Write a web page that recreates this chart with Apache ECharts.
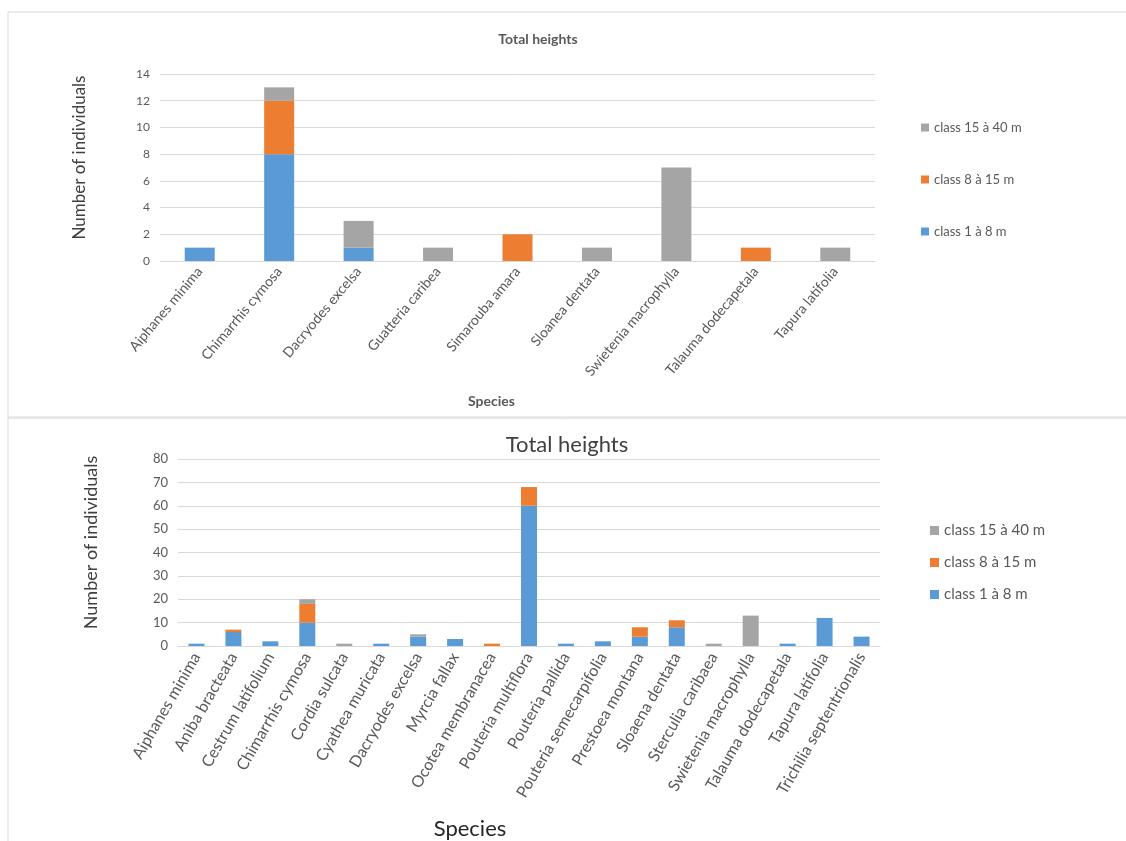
<!DOCTYPE html>
<html>
<head>
<meta charset="utf-8">
<script src="https://cdn.jsdelivr.net/npm/echarts@6/dist/echarts.min.js"></script>
<style>
  html, body { margin: 0; padding: 0; background: #fff; }
  #chart { width: 1126px; height: 841px; }
</style>
</head>
<body>
<div id="chart"></div>
<script>
// Upper panel: species counted in the first plot
const speciesA = ['Aiphanes minima', 'Chimarrhis cymosa', 'Dacryodes excelsa', 'Guatteria caribea',
  'Simarouba amara', 'Sloanea dentata', 'Swietenia macrophylla', 'Talauma dodecapetala', 'Tapura latifolia'];
const smallA  = [1, 8, 1, 0, 0, 0, 0, 0, 0];   // class 1 à 8 m
const middleA = [0, 4, 0, 0, 2, 0, 0, 1, 0];   // class 8 à 15 m
const tallA   = [0, 1, 2, 1, 0, 1, 7, 0, 1];   // class 15 à 40 m
const ticksA = { min: 0, max: 14, interval: 2 };

// Lower panel: all species
const speciesB = ['Aiphanes minima', 'Aniba bracteata', 'Cestrum latifolium', 'Chimarrhis cymosa',
  'Cordia sulcata', 'Cyathea muricata', 'Dacryodes excelsa', 'Myrcia fallax', 'Ocotea membranacea',
  'Pouteria multiflora', 'Pouteria pallida', 'Pouteria semecarpifolia', 'Prestoea montana',
  'Sloaena dentata', 'Sterculia caribaea', 'Swietenia macrophylla', 'Talauma dodecapetala',
  'Tapura latifolia', 'Trichilia septentrionalis'];
const smallB  = [1, 6, 2, 10, 0, 1, 4, 3, 0, 60, 1, 2, 4, 8, 0, 0, 1, 12, 4];
const middleB = [0, 1, 0, 8, 0, 0, 0, 0, 1, 8, 0, 0, 4, 3, 0, 0, 0, 0, 0];
const tallB   = [0, 0, 0, 2, 1, 0, 1, 0, 0, 0, 0, 0, 0, 0, 1, 13, 0, 0, 0];
const ticksB = { min: 0, max: 80, interval: 10 };

const classNames = ['class 1 à 8 m', 'class 8 à 15 m', 'class 15 à 40 m'];
const classColors = ['#5b9bd5', '#ed7d31', '#a5a5a5'];

const FONT = 'Lato, "Open Sans", sans-serif';
const TEXT = '#595959';
const DARK = '#404040';
const GRID_LINE = '#d9d9d9';

const chart = echarts.init(document.getElementById('chart'), null, { renderer: 'canvas' });

function valueAxis(gridIndex, ticks, fontSize, nameSize, nameGap, namePad) {
  return {
    type: 'value', gridIndex,
    min: ticks.min, max: ticks.max, interval: ticks.interval,
    name: 'Number of individuals', nameLocation: 'middle', nameGap,
    nameTextStyle: { fontFamily: FONT, fontSize: nameSize, color: DARK, padding: namePad },
    axisLine: { show: false }, axisTick: { show: false },
    axisLabel: { fontFamily: FONT, fontSize, color: TEXT, margin: 10 },
    splitLine: { lineStyle: { color: GRID_LINE, width: 1 } }
  };
}

function categoryAxis(gridIndex, cats, fontSize, rotate, nameOpts) {
  return Object.assign({
    type: 'category', gridIndex, data: cats,
    nameLocation: 'middle',
    axisLine: { lineStyle: { color: GRID_LINE } }, axisTick: { show: false },
    axisLabel: { fontFamily: FONT, fontSize, color: TEXT, rotate, interval: 0, margin: 8 }
  }, nameOpts);
}

function stackSeries(gridIdx, stack, values, barWidth) {
  return values.map((vals, i) => ({
    name: classNames[i], type: 'bar', stack,
    xAxisIndex: gridIdx, yAxisIndex: gridIdx,
    barWidth, data: vals,
    itemStyle: { color: classColors[i] }
  }));
}

const legendOrder = classNames.slice().reverse();

chart.setOption({
  animation: false,
  backgroundColor: '#fff',
  title: [
    { text: 'Total heights', left: 533, top: 27, textAlign: 'center',
      textStyle: { fontFamily: FONT, fontSize: 14, fontWeight: 'bold', color: TEXT } },
    { text: 'Total heights', left: 562, top: 429, textAlign: 'center',
      textStyle: { fontFamily: FONT, fontSize: 22, fontWeight: 'normal', color: DARK } }
  ],
  legend: [
    { data: legendOrder, orient: 'vertical', left: 916, top: 116, itemGap: 39,
      itemWidth: 8, itemHeight: 8, icon: 'rect',
      textStyle: { fontFamily: FONT, fontSize: 13, color: TEXT } },
    { data: legendOrder, orient: 'vertical', left: 925, top: 518, itemGap: 17,
      itemWidth: 9, itemHeight: 9, icon: 'rect',
      textStyle: { fontFamily: FONT, fontSize: 15, color: TEXT } }
  ],
  grid: [
    { left: 160, right: 251, top: 74, bottom: 580 },
    { left: 178, right: 246, top: 459, bottom: 184 }
  ],
  xAxis: [
    categoryAxis(0, speciesA, 14, 50, {
      name: 'Species', nameGap: 133,
      nameTextStyle: { fontFamily: FONT, fontSize: 14, fontWeight: 'bold', color: TEXT, padding: [0, 52, 0, 0] }
    }),
    categoryAxis(1, speciesB, 16, 60, {
      name: 'Species', nameGap: 172,
      nameTextStyle: { fontFamily: FONT, fontSize: 22, color: '#262626', padding: [0, 118, 0, 0] }
    })
  ],
  yAxis: [
    valueAxis(0, ticksA, 12, 17, 72, [0, 0, 0, 20]),
    valueAxis(1, ticksB, 13, 18, 78, [0, 0, 0, 20])
  ],
  series: [].concat(
    stackSeries(0, 'upper', [smallA, middleA, tallA], 30),
    stackSeries(1, 'lower', [smallB, middleB, tallB], 16)
  ),
  graphic: [
    { type: 'rect', shape: { x: 8, y: 12, width: 1130, height: 405 },
      style: { fill: 'none', stroke: '#d9d9d9', lineWidth: 1 }, silent: true },
    { type: 'line', shape: { x1: 8, y1: 418, x2: 1126, y2: 418 },
      style: { stroke: '#e6e6e6', lineWidth: 2 }, silent: true },
    { type: 'line', shape: { x1: 8, y1: 417, x2: 8, y2: 841 },
      style: { stroke: '#d9d9d9', lineWidth: 1 }, silent: true }
  ]
});
</script>
</body>
</html>
